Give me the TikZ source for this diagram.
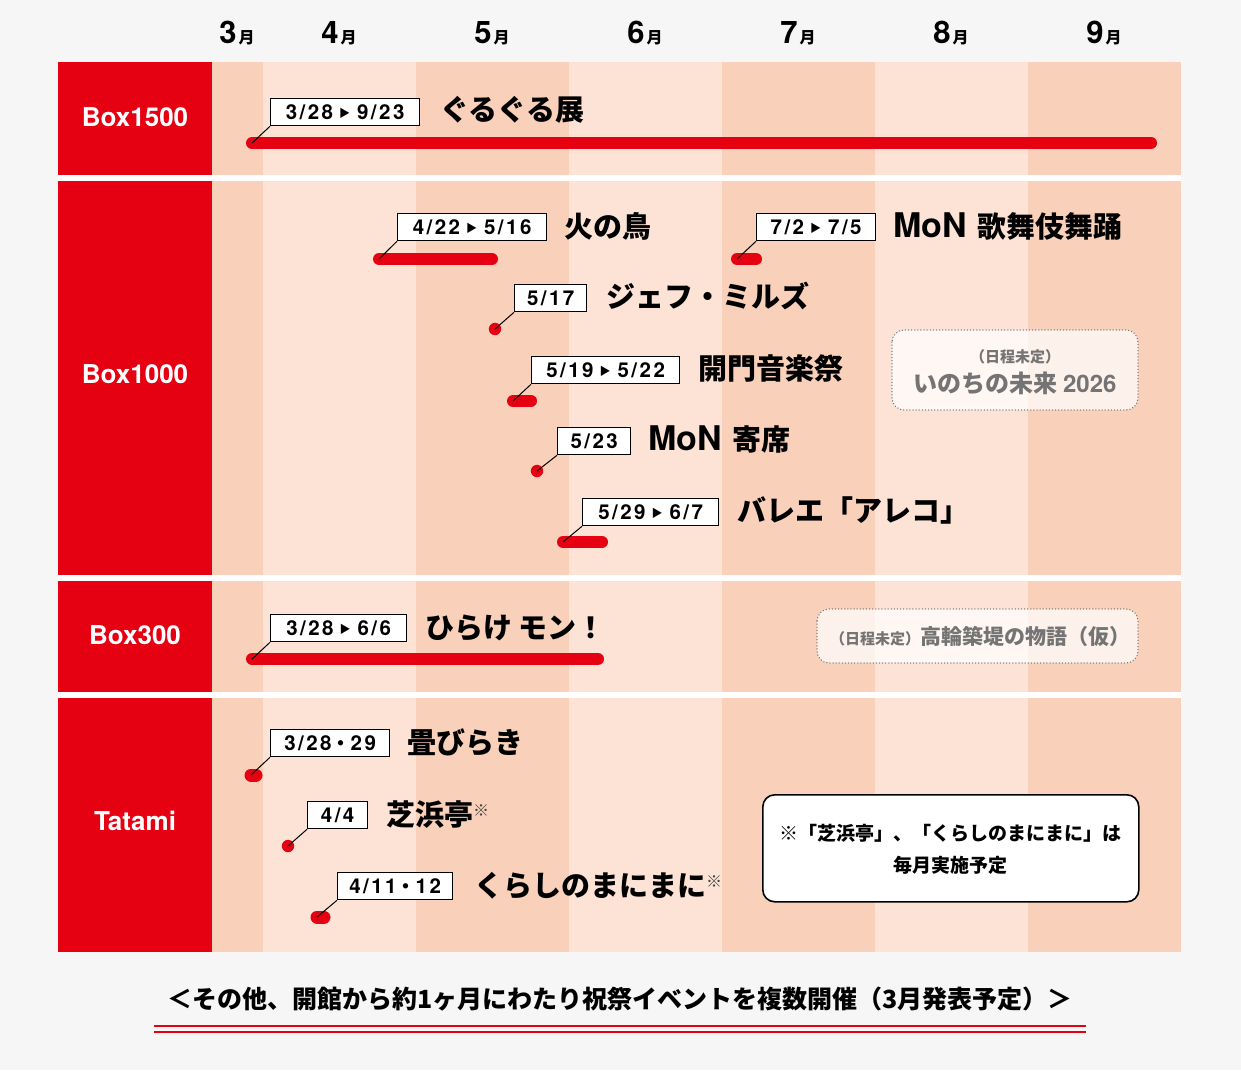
\documentclass[tikz,border=0pt]{standalone}
\usepackage{fontspec}
\setmainfont{Noto Sans CJK JP}
\newfontfamily\hv{TeX Gyre Heros}
\newfontfamily\hvd{TeX Gyre Heros}[LetterSpace=12]
\definecolor{bg}{HTML}{F5F6F5}
\definecolor{stripeA}{HTML}{F9D0BA}
\definecolor{stripeB}{HTML}{FCE3D6}
\definecolor{brand}{HTML}{E50012}
\definecolor{graytxt}{HTML}{747474}
\newcommand{\tri}{\hspace{6pt}{\rmfamily\fontsize{11}{11}\selectfont\raisebox{2.5pt}{▶}}\hspace{7pt}}
\newcommand{\nakaguro}{{\rmfamily\fontsize{19}{19}\selectfont ・}}
\newcommand{\kome}{\raisebox{9pt}{\fontsize{16}{16}\selectfont\mdseries\color{black!75}※}}
\newcommand{\mon}{{\hv\fontsize{34}{34}\selectfont MoN}\hspace{11pt}}
\tikzset{
  datebox/.style={draw=black, line width=1.3pt, fill=white, minimum height=27pt,
    inner sep=0pt, anchor=north west, text height=15pt, text depth=0pt,
    font=\hvd\fontsize{20.5}{20.5}\selectfont\bfseries},
  evtitle/.style={anchor=west, inner sep=0pt, text height=20pt, text depth=0pt,
    font=\fontsize{29}{29}\selectfont\bfseries},
  rowlabel/.style={text=white, inner sep=0pt, text height=18pt, text depth=0pt,
    font=\hv\fontsize{26}{26}\selectfont\bfseries},
  monthlabel/.style={anchor=base, inner sep=0pt, font=\bfseries},
  bar/.style={draw=brand, line width=12pt, line cap=round},
  leader/.style={draw=black, line width=1pt},
  dotbox/.style={draw=graytxt, line width=1.4pt, dash pattern=on 0.1pt off 3pt,
    line cap=round, fill=white, fill opacity=0.72, rounded corners=12pt},
  graytext/.style={text=graytxt, inner sep=0pt, font=\bfseries},
}
\begin{document}
\begin{tikzpicture}[x=1pt,y=-1pt]
% background
\fill[bg] (0,0) rectangle (1241,1070);
\useasboundingbox (0,0) rectangle (1241,1070);
% stripes
\fill[stripeA] (212,62) rectangle (263,952);
\fill[stripeB] (263,62) rectangle (416,952);
\fill[stripeA] (416,62) rectangle (569,952);
\fill[stripeB] (569,62) rectangle (722,952);
\fill[stripeA] (722,62) rectangle (875,952);
\fill[stripeB] (875,62) rectangle (1028,952);
\fill[stripeA] (1028,62) rectangle (1181,952);
% red label column
\fill[brand] (58,62) rectangle (212,175);
\fill[brand] (58,181) rectangle (212,575);
\fill[brand] (58,581) rectangle (212,692);
\fill[brand] (58,698) rectangle (212,952);
% white gaps
\fill[white] (58,175) rectangle (1181,181);
\fill[white] (58,575) rectangle (1181,581);
\fill[white] (58,692) rectangle (1181,698);
% month labels
\foreach \m/\cx in {3/237,4/339,5/492,6/645,7/798,8/951,9/1104}{
  \node[monthlabel] (m\m) at (\cx,44) {{\hv\fontsize{31}{31}\selectfont \m}\hspace{2pt}{\fontsize{16}{16}\selectfont 月}};
}
% row labels
\node[rowlabel] (r1) at (135,117) {Box1500};
\node[rowlabel] (r2) at (135,374) {Box1000};
\node[rowlabel] (r3) at (135,635) {Box300};
\node[rowlabel] (r4) at (135,821) {Tatami};

% ---------- Box1500 ----------
\coordinate (b1s) at (252,143); \coordinate (b1e) at (1151,143);
\draw[bar] (b1s) -- (b1e);
\node[datebox, minimum width=149pt] (d1) at (270,98) {3/28\tri 9/23};
\draw[leader] (b1s) -- (d1.south west);
\node[evtitle] (t1) at (440,111) {ぐるぐる展};

% ---------- Box1000 ----------
\coordinate (b2s) at (379,259); \coordinate (b2e) at (492,259);
\draw[bar] (b2s) -- (b2e);
\node[datebox, minimum width=149pt] (d2) at (397,213) {4/22\tri 5/16};
\draw[leader] (b2s) -- (d2.south west);
\node[evtitle] (t2) at (564,227) {火の鳥};

\coordinate (b3s) at (737,259); \coordinate (b3e) at (756,259);
\draw[bar] (b3s) -- (b3e);
\node[datebox, minimum width=119pt] (d3) at (756,213) {7/2\tri 7/5};
\draw[leader] (b3s) -- (d3.south west);
\node[evtitle] (t3) at (893,227) {\mon 歌舞伎舞踊};

\coordinate (b4s) at (495,329);
\fill[brand] (b4s) circle (6.2pt);
\node[datebox, minimum width=72pt] (d4) at (514,284) {5/17};
\draw[leader] (b4s) -- (d4.south west);
\node[evtitle] (t4) at (606,297) {ジェフ・ミルズ};

\coordinate (b5s) at (513,401); \coordinate (b5e) at (531,401);
\draw[bar] (b5s) -- (b5e);
\node[datebox, minimum width=148pt] (d5) at (531,356) {5/19\tri 5/22};
\draw[leader] (b5s) -- (d5.south west);
\node[evtitle] (t5) at (698,369) {開門音楽祭};

\coordinate (b6s) at (537,471);
\fill[brand] (b6s) circle (6.2pt);
\node[datebox, minimum width=73pt] (d6) at (557,427) {5/23};
\draw[leader] (b6s) -- (d6.south west);
\node[evtitle] (t6) at (648,440) {\mon 寄席};

\coordinate (b7s) at (563,542); \coordinate (b7e) at (602,542);
\draw[bar] (b7s) -- (b7e);
\node[datebox, minimum width=136pt] (d7) at (582,498) {5/29\tri 6/7};
\draw[leader] (b7s) -- (d7.south west);
\node[evtitle] (t7) at (737,511) {バレエ「アレコ」};

\draw[dotbox] (892,330) rectangle (1138,410);
\node[graytext, font=\fontsize{15}{15}\selectfont\bfseries] (u1) at (1015,357) {（日程未定）};
\node[graytext, font=\fontsize{24}{24}\selectfont\bfseries] (u2) at (1015,383) {いのちの未来 {\hv 2026}};

% ---------- Box300 ----------
\coordinate (b8s) at (252,659); \coordinate (b8e) at (598,659);
\draw[bar] (b8s) -- (b8e);
\node[datebox, minimum width=136pt] (d8) at (270,614) {3/28\tri 6/6};
\draw[leader] (b8s) -- (d8.south west);
\node[evtitle] (t8) at (425,628) {ひらけ モン！};

\draw[dotbox] (817,609) rectangle (1138,663);
\node[graytext, anchor=base] (u3) at (980,644) {{\fontsize{15}{15}\selectfont （日程未定）}{\fontsize{21}{21}\selectfont 高輪築堤の物語（仮）}};

% ---------- Tatami ----------
\coordinate (b9s) at (251,775); \coordinate (b9e) at (256,775);
\draw[bar, line width=13pt] (b9s) -- (b9e);
\node[datebox, minimum width=119pt] (d9) at (270,729) {3/28\nakaguro 29};
\draw[leader] (b9s) -- (d9.south west);
\node[evtitle] (t9) at (407,743) {畳びらき};

\coordinate (b10s) at (288,846);
\fill[brand] (b10s) circle (6.2pt);
\node[datebox, minimum width=60pt] (d10) at (307,801) {4/4};
\draw[leader] (b10s) -- (d10.south west);
\node[evtitle] (t10) at (386,815) {芝浜亭\kome};

\coordinate (b11s) at (317,917); \coordinate (b11e) at (324,917);
\draw[bar, line width=13pt] (b11s) -- (b11e);
\node[datebox, minimum width=115pt] (d11) at (337,872) {4/11\nakaguro 12};
\draw[leader] (b11s) -- (d11.south west);
\node[evtitle] (t11) at (474,886) {くらしのまにまに\kome};

% note box
\node[draw=black, line width=1.6pt, fill=white, rounded corners=12pt, inner sep=0pt,
  minimum width=376pt, minimum height=107pt, anchor=north west] (note) at (762,794) {};
\node[inner sep=0pt, font=\fontsize{19}{19}\selectfont\bfseries, anchor=base] (n1) at (950,840) {※「芝浜亭」、「くらしのまにまに」は};
\node[inner sep=0pt, font=\fontsize{19}{19}\selectfont\bfseries, anchor=base] (n2) at (950,872) {毎月実施予定};

% bottom caption
\node[inner sep=0pt, font=\fontsize{25}{25}\selectfont\bfseries, anchor=base] (cap) at (620,1008) {＜その他、開館から約1ヶ月にわたり祝祭イベントを複数開催（3月発表予定）＞};
\coordinate (l1s) at (154,1026); \coordinate (l1e) at (1086,1026);
\coordinate (l2s) at (154,1032); \coordinate (l2e) at (1086,1032);
\draw[brand, line width=1.6pt] (l1s) -- (l1e);
\draw[brand, line width=1.6pt] (l2s) -- (l2e);
\end{tikzpicture}
\end{document}
